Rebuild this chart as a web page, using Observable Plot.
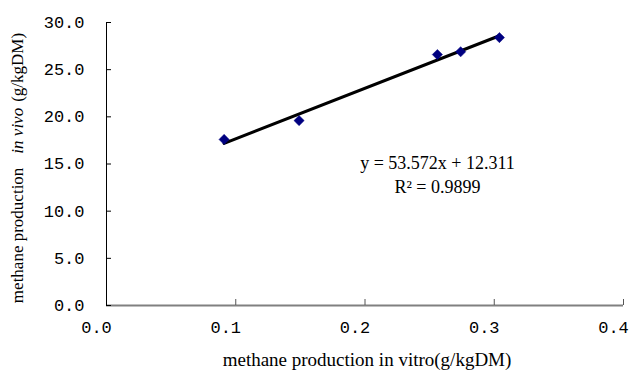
<!DOCTYPE html>
<html><head><meta charset="utf-8">
<script src="https://cdn.jsdelivr.net/npm/d3@7"></script>
<script src="https://cdn.jsdelivr.net/npm/@observablehq/plot@0.6"></script>
<style>body{margin:0;background:#fff;} #chart svg{display:block;}</style>
</head><body><div id="chart"></div>
<script>
// Data
const invitro = [0.091, 0.149, 0.256, 0.274, 0.304];
const invivo = [17.6, 19.6, 26.6, 26.9, 28.4];
const slope = 53.572;
const intercept = 12.311;
const xTicks = [0, 0.1, 0.2, 0.3, 0.4];
const yTicks = [0, 5, 10, 15, 20, 25, 30];
const xTitle = "methane production in vitro(g/kgDM)";
const yTitleParts = ["methane production", "in vivo", "(g/kgDM)"];
const eqLines = ["y = 53.572x + 12.311", "R² = 0.9899"];

const points = invitro.map((x, i) => ({x, y: invivo[i]}));
const fit = d3.extent(invitro).map(x => ({x, y: slope * x + intercept}));

const serif = "'Liberation Serif', 'Times New Roman', serif";
const mono = "'Liberation Mono', 'DejaVu Sans Mono', monospace";

const W = 635, H = 370;
const mL = 106, mR = 12, mT = 22, mB = 65;

const chart = Plot.plot({
  width: W, height: H,
  marginLeft: mL, marginRight: mR, marginTop: mT, marginBottom: mB,
  style: {background: "#fff", color: "#000"},
  x: {domain: [0, 0.4]},
  y: {domain: [0, 30]},
  marks: [
    // x axis line (grey) and inward ticks
    Plot.ruleY([0], {stroke: "#808080", strokeWidth: 2}),
    Plot.ruleX(xTicks, {x: d => d, y1: 0, y2: 0, insetTop: -6, stroke: "#555", strokeWidth: 1}),
    // y axis line (black) and inward ticks
    Plot.ruleX([0], {stroke: "#000", strokeWidth: 1}),
    Plot.ruleY(yTicks, {y: d => d, x1: 0, x2: 0, insetRight: -5, stroke: "#000", strokeWidth: 1}),
    Plot.axisY({ticks: yTicks, tickFormat: d => d.toFixed(1), tickSize: 0, tickPadding: 22,
      fontSize: 17, fontFamily: mono, label: null}),
    Plot.axisX({ticks: xTicks, tickFormat: d => d.toFixed(1), tickSize: 0, tickPadding: 15, dx: -10,
      fontSize: 17, fontFamily: mono, label: null}),
    // regression line
    Plot.line(fit, {x: "x", y: "y", stroke: "#000", strokeWidth: 3}),
    // observations
    Plot.dot(points, {x: "x", y: "y", symbol: "diamond2", r: 4.6, fill: "#000080", stroke: "#000080", strokeWidth: 0.5}),
    // equation label
    Plot.text([eqLines.join("\n")], {frameAnchor: "top-left", dx: 331, dy: 151, textAnchor: "middle",
      lineAnchor: "middle", lineHeight: 1.3, fontSize: 18, fontFamily: serif, fill: "#000"}),
    // x title
    Plot.text([xTitle], {frameAnchor: "bottom", dy: 60, dx: 2, lineAnchor: "bottom", textAnchor: "middle",
      fontSize: 19, fontFamily: serif, fill: "#000"})
  ]
});

// y title with italic "in vivo"
const svg = d3.select(chart);
const t = svg.append("text")
  .attr("transform", "translate(23,168) rotate(-90)")
  .attr("text-anchor", "middle")
  .attr("font-family", serif)
  .attr("font-size", 17)
  .attr("fill", "#000");
t.append("tspan").text(yTitleParts[0]);
t.append("tspan").attr("dx", 14).attr("font-style", "italic").text(yTitleParts[1]);
t.append("tspan").attr("dx", 6).text(yTitleParts[2]);

document.getElementById("chart").append(chart);
</script>
</body></html>
